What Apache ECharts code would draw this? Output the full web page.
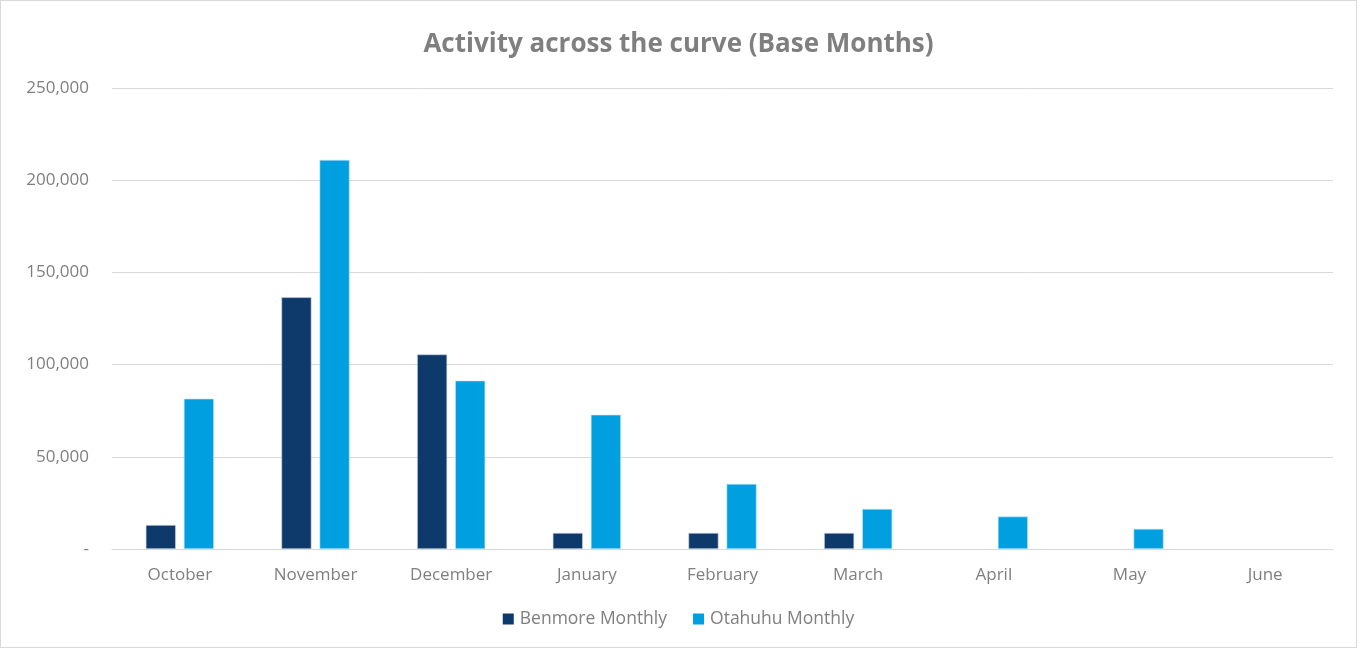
<!DOCTYPE html>
<html>
<head>
<meta charset="utf-8">
<script src="https://cdn.jsdelivr.net/npm/echarts@6/dist/echarts.min.js"></script>
<style>
  html, body { margin: 0; padding: 0; background: #fff; }
  #chart {
    width: 1355px;
    height: 646px;
    border: 1px solid #d9d9d9;
  }
</style>
</head>
<body>
<div id="chart"></div>
<script>
const months = ["October", "November", "December", "January", "February", "March", "April", "May", "June"];
const benmore = [13000, 136500, 105500, 8700, 8700, 8700, null, null, null];
const otahuhu = [81500, 211000, 91300, 72800, 35300, 21700, 17600, 10900, null];

const chart = echarts.init(document.getElementById("chart"));

const option = {
  animation: false,
  textStyle: { fontFamily: "Open Sans" },
  title: {
    text: "Activity across the curve (Base Months)",
    left: "center",
    top: 26,
    textStyle: { fontSize: 26, fontWeight: "bold", color: "#7f7f7f", fontFamily: "Open Sans" }
  },
  legend: {
    bottom: 14,
    left: "center",
    itemWidth: 11,
    itemHeight: 11,
    itemGap: 26,
    icon: "rect",
    itemStyle: { borderWidth: 0 },
    textStyle: { fontSize: 17.5, color: "#7f7f7f", padding: [0, 0, 0, 1] },
    data: ["Benmore Monthly", "Otahuhu Monthly"]
  },
  grid: { left: 111, right: 23, top: 87, bottom: 98 },
  xAxis: {
    type: "category",
    data: months,
    axisTick: { show: false },
    axisLine: { lineStyle: { color: "#d9d9d9" } },
    axisLabel: { fontSize: 17, color: "#7f7f7f", margin: 18 }
  },
  yAxis: {
    type: "value",
    min: 0,
    max: 250000,
    interval: 50000,
    axisLine: { show: false },
    axisTick: { show: false },
    splitLine: { lineStyle: { color: "#d9d9d9" } },
    axisLabel: {
      fontSize: 17,
      color: "#7f7f7f",
      margin: 23,
      formatter: v => v === 0 ? "-" : v.toLocaleString("en-US")
    }
  },
  series: [
    {
      name: "Benmore Monthly",
      type: "bar",
      data: benmore,
      barWidth: 30,
      barGap: "27%",
      itemStyle: { color: "#0e3a6b", borderColor: "#c9d3e0", borderWidth: 0.6 }
    },
    {
      name: "Otahuhu Monthly",
      type: "bar",
      data: otahuhu,
      barWidth: 30,
      itemStyle: { color: "#00a0e0", borderColor: "#bfe6f7", borderWidth: 0.6 }
    }
  ]
};

chart.setOption(option);
</script>
</body>
</html>
